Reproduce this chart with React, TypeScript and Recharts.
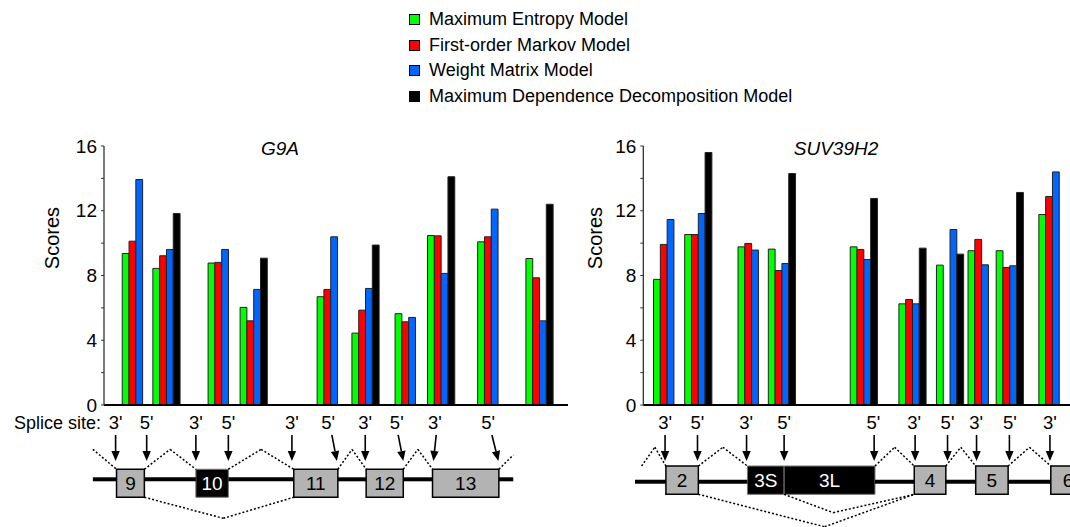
import React from 'react';
import { BarChart, Bar, XAxis, YAxis, ReferenceArea, ReferenceLine } from 'recharts';

const FONT = '"Liberation Sans", Arial, Helvetica, sans-serif';
const H = 527;

const seriesNames = [
  'Maximum Entropy Model',
  'First-order Markov Model',
  'Weight Matrix Model',
  'Maximum Dependence Decomposition Model',
];
const seriesKeys = ['maxEnt', 'markov', 'wmm', 'mdd'];
const seriesColors = ['#00ff00', '#ff0000', '#0066ff', '#000000'];

const scoreTicks = [0, 2, 4, 6, 8, 10, 12, 14, 16];

// ---- G9A (positions along the gene drawing, 0-100) ----
const g9aBarPos = [6.8, 13.4, 25.3, 32.2, 48.8, 56.3, 65.6, 72.6, 83.4, 93.8];
const g9aMaxEnt = [9.36, 8.44, 8.77, 6.03, 6.69, 4.44, 5.64, 10.47, 10.08, 9.05];
const g9aMarkov = [10.12, 9.22, 8.81, 5.2, 7.14, 5.86, 5.14, 10.45, 10.39, 7.86];
const g9aWmm = [13.93, 9.61, 9.61, 7.14, 10.39, 7.2, 5.41, 8.13, 12.1, 5.2];
const g9aMdd = [null, 11.83, null, 9.07, null, 9.88, null, 14.1, null, 12.4];
const g9aSiteLabels = ["3'", "5'", "3'", "5'", "3'", "5'", "3'", "5'", "3'", "5'"];
const g9aSitePos = [2.5, 9.2, 19.8, 26.8, 40.5, 48.3, 56.3, 63.1, 71.3, 82.8];
const g9aArrowFrom = [2.5, 9.2, 19.8, 26.8, 40.5, 49.1, 56.3, 63.4, 71.6, 83.6];
const g9aArrowTo = [2.5, 9.2, 19.8, 26.8, 40.5, 50.2, 56.3, 64.5, 71.0, 85.0];
const g9aExons = [
  { name: '9', start: 2.7, end: 8.7, dark: false },
  { name: '10', start: 19.8, end: 26.8, dark: true },
  { name: '11', start: 40.9, end: 50.4, dark: false },
  { name: '12', start: 56.5, end: 64.5, dark: false },
  { name: '13', start: 70.8, end: 85.1, dark: false },
];

// ---- SUV39H2 ----
const suvBarPos = [5.7, 13.0, 25.5, 32.6, 51.8, 63.2, 72.0, 79.4, 86.0, 96.0];
const suvMaxEnt = [7.76, 10.53, 9.77, 9.63, 9.77, 6.25, 8.64, 9.53, 9.53, 11.77];
const suvMarkov = [9.92, 10.53, 9.98, 8.31, 9.61, 6.52, null, 10.23, 8.5, 12.88];
const suvWmm = [11.46, 11.83, 9.57, 8.74, 8.99, 6.25, 10.84, 8.66, 8.6, 14.4];
const suvMdd = [null, 15.6, null, 14.3, 12.76, 9.69, 9.32, null, 13.13, null];
const suvSiteLabels = ["3'", "5'", "3'", "5'", "5'", "3'", "5'", "3'", "5'", "3'"];
const suvSitePos = [5.1, 12.7, 24.1, 33.0, 53.9, 63.5, 71.3, 78.0, 85.9, 95.3];
const suvArrowFrom = [5.1, 12.7, 24.2, 33.0, 54.1, 63.7, 71.3, 78.1, 85.8, 95.3];
const suvArrowTo = suvArrowFrom;
const suvExons = [
  { name: '2', start: 5.3, end: 12.9, dark: false },
  { name: '3S', start: 24.4, end: 33.0, dark: true },
  { name: '3L', start: 33.0, end: 54.3, dark: true },
  { name: '4', start: 63.5, end: 70.9, dark: false },
  { name: '5', start: 77.9, end: 85.5, dark: false },
  { name: '6', start: 95.5, end: 103.6, dark: false },
];

type Exon = { name: string; start: number; end: number; dark: boolean };
type Path = [number, string][];

interface PanelProps {
  title: string;
  left: number;
  width: number;
  marginRight: number;
  axisWidth: number;
  titleX: number;
  scoresX: number;
  spliceLabel?: string;
  barPos: number[];
  values: (number | null)[][];
  siteLabels: string[];
  sitePos: number[];
  arrowFrom: number[];
  arrowTo: number[];
  exons: Exon[];
  lineFrom: number;
  lineTo: number;
  extraPaths: Path[];
  levels: Record<string, number>;
}

const Arrow = (props: any) => {
  const { x1, y1, x2, y2 } = props;
  const len = Math.hypot(x2 - x1, y2 - y1) || 1;
  const ux = (x2 - x1) / len;
  const uy = (y2 - y1) / len;
  const bx = x2 - ux * 10;
  const by = y2 - uy * 10;
  const w = 4.2;
  return (
    <g>
      <line x1={x1} y1={y1} x2={bx} y2={by} stroke="#000" strokeWidth={1.6} />
      <polygon
        points={`${x2},${y2} ${bx - uy * w},${by + ux * w} ${bx + uy * w},${by - ux * w}`}
        fill="#000"
      />
    </g>
  );
};

const Panel = (p: PanelProps) => {
  const data = p.barPos.map((pos, i) => {
    const row: any = { pos };
    seriesKeys.forEach((k, s) => {
      row[k] = p.values[s][i];
    });
    return row;
  });
  const lv = p.levels;

  // dotted splicing paths: neighbouring exons + the extra ones
  const paths: Path[] = [];
  for (let i = 0; i + 1 < p.exons.length; i++) {
    const a = p.exons[i];
    const b = p.exons[i + 1];
    if (b.start - a.end > 0.5) {
      paths.push([[a.end, 'boxTop'], [(a.end + b.start) / 2, 'peak'], [b.start, 'boxTop']]);
    }
  }
  paths.push(...p.extraPaths);
  const dotted = paths.flatMap((path) => path.slice(1).map((pt, j) => [path[j], pt]));

  // intron line pieces between exons
  const pieces: [number, number][] = [];
  let cur = p.lineFrom;
  p.exons.forEach((e) => {
    if (e.start > cur) pieces.push([cur, e.start]);
    cur = Math.max(cur, e.end);
  });
  if (p.lineTo > cur) pieces.push([cur, p.lineTo]);

  return (
    <div style={{ position: 'absolute', left: p.left, top: 0, width: p.width, height: H, overflow: 'hidden' }}>
      <div
        style={{
          position: 'absolute',
          left: p.titleX - 100,
          width: 200,
          top: 138.5,
          textAlign: 'center',
          fontFamily: FONT,
          fontStyle: 'italic',
          fontSize: 19,
          lineHeight: '19px',
          color: '#000',
        }}
      >
        {p.title}
      </div>
      <BarChart
        width={p.width}
        height={H}
        data={data}
        margin={{ top: 146, right: p.marginRight, bottom: 0, left: 0 }}
        barGap={0}
      >
        <XAxis
          type="number"
          dataKey="pos"
          domain={[0, 100]}
          ticks={p.sitePos}
          interval={0}
          tickFormatter={(v: number) => p.siteLabels[p.sitePos.indexOf(v)] ?? ''}
          tickLine={false}
          tickSize={6}
          tickMargin={5}
          height={H - 405}
          axisLine={{ stroke: '#000', strokeWidth: 2 }}
          tick={{ fill: '#000', fontSize: 18.5, fontFamily: FONT }}
          label={(lp: any) =>
            p.spliceLabel ? (
              <text
                x={lp.viewBox.x - 3}
                y={lp.viewBox.y + 23.6}
                textAnchor="end"
                fill="#000"
                fontSize={18}
                fontFamily={FONT}
              >
                {p.spliceLabel}
              </text>
            ) : null
          }
        />
        <YAxis
          type="number"
          domain={[0, 16]}
          ticks={scoreTicks}
          interval={0}
          width={p.axisWidth}
          tickFormatter={(v: number) => (v % 4 === 0 ? String(v) : '')}
          tickSize={3}
          tickMargin={4}
          axisLine={{ stroke: '#333', strokeWidth: 1.3 }}
          tickLine={{ stroke: '#333' }}
          tick={{ fill: '#000', fontSize: 19, fontFamily: FONT }}
          label={(lp: any) => (
            <text
              x={lp.viewBox.x + p.scoresX}
              y={238}
              transform={`rotate(-90, ${lp.viewBox.x + p.scoresX}, 238)`}
              textAnchor="middle"
              dominantBaseline="central"
              fill="#000"
              fontSize={20}
              fontFamily={FONT}
            >
              Scores
            </text>
          )}
        />
        {seriesKeys.map((k, s) => (
          <Bar
            key={k}
            dataKey={k}
            name={seriesNames[s]}
            fill={seriesColors[s]}
            stroke="#222"
            strokeWidth={1}
            barSize={6.8}
            isAnimationActive={false}
          />
        ))}
        {pieces.map(([a, b], i) => (
          <ReferenceLine
            key={`ln${i}`}
            segment={[{ x: a, y: lv.line }, { x: b, y: lv.line }]}
            stroke="#000"
            strokeWidth={4}
            ifOverflow="visible"
          />
        ))}
        {dotted.map(([a, b], i) => (
          <ReferenceLine
            key={`dt${i}`}
            segment={[{ x: a[0], y: lv[a[1]] }, { x: b[0], y: lv[b[1]] }]}
            stroke="#000"
            strokeWidth={1.5}
            strokeDasharray="2 2"
            ifOverflow="visible"
          />
        ))}
        {p.exons.map((e) => (
          <ReferenceArea
            key={`ex${e.name}`}
            x1={e.start}
            x2={e.end}
            y1={lv.boxBottom}
            y2={lv.boxTop}
            fill={e.dark ? '#000' : '#b3b3b3'}
            fillOpacity={1}
            stroke={e.dark ? '#777' : '#000'}
            strokeWidth={e.dark ? 1 : 1.5}
            ifOverflow="visible"
            label={{ value: e.name, position: 'center', fill: e.dark ? '#fff' : '#000', fontSize: 19, fontFamily: FONT }}
          />
        ))}
        {p.arrowFrom.map((x, i) => (
          <ReferenceLine
            key={`ar${i}`}
            segment={[{ x, y: lv.arrowTop }, { x: p.arrowTo[i], y: lv.arrowTip }]}
            ifOverflow="visible"
            shape={Arrow}
          />
        ))}
      </BarChart>
    </div>
  );
};

const Legend = () => (
  <div style={{ position: 'absolute', left: 409, top: 6.4, fontFamily: FONT, fontSize: 18, color: '#000' }}>
    {seriesNames.map((n, i) => (
      <div key={n} style={{ display: 'flex', alignItems: 'center', height: 25.8, whiteSpace: 'nowrap' }}>
        <span
          style={{
            display: 'inline-block',
            width: 11,
            height: 11,
            boxSizing: 'border-box',
            border: '1px solid #000',
            background: seriesColors[i],
            marginRight: 9,
          }}
        />
        {n}
      </div>
    ))}
  </div>
);

export default function App() {
  return (
    <div style={{ position: 'absolute', left: 0, top: 0, width: 1070, height: H, overflow: 'hidden', background: '#fff' }}>
      <Panel
        title="G9A"
        left={0}
        width={580}
        marginRight={12}
        axisWidth={104}
        titleX={280}
        scoresX={52}
        spliceLabel="Splice site:"
        barPos={g9aBarPos}
        values={[g9aMaxEnt, g9aMarkov, g9aWmm, g9aMdd]}
        siteLabels={g9aSiteLabels}
        sitePos={g9aSitePos}
        arrowFrom={g9aArrowFrom}
        arrowTo={g9aArrowTo}
        exons={g9aExons}
        lineFrom={-2.4}
        lineTo={88.2}
        extraPaths={[
          [[-2.4, 'peak'], [2.7, 'boxTop']],
          [[85.1, 'boxTop'], [88.2, 'tail']],
          [[8.7, 'boxBottom'], [25.7, 'skip'], [40.9, 'boxBottom']],
        ]}
        levels={{ arrowTop: -1.85, arrowTip: -3.46, peak: -2.74, boxTop: -3.97, boxBottom: -5.7, line: -4.59, tail: -3.09, skip: -7.0 }}
      />
      <Panel
        title="SUV39H2"
        left={580}
        width={490}
        marginRight={0}
        axisWidth={63.3}
        titleX={256}
        scoresX={15}
        barPos={suvBarPos}
        values={[suvMaxEnt, suvMarkov, suvWmm, suvMdd]}
        siteLabels={suvSiteLabels}
        sitePos={suvSitePos}
        arrowFrom={suvArrowFrom}
        arrowTo={suvArrowTo}
        exons={suvExons}
        lineFrom={-1.95}
        lineTo={115}
        extraPaths={[
          [[-0.4, 'boxTop'], [2.7, 'peak'], [5.3, 'boxTop']],
          [[12.9, 'boxBottom'], [42.5, 'skipLow'], [63.5, 'boxBottom']],
          [[33.0, 'boxBottom'], [44.5, 'skipMid'], [63.5, 'boxBottom']],
        ]}
        levels={{ arrowTop: -1.85, arrowTip: -3.46, peak: -2.61, boxTop: -3.77, boxBottom: -5.52, line: -4.74, skipLow: -7.52, skipMid: -6.65 }}
      />
      <Legend />
    </div>
  );
}
